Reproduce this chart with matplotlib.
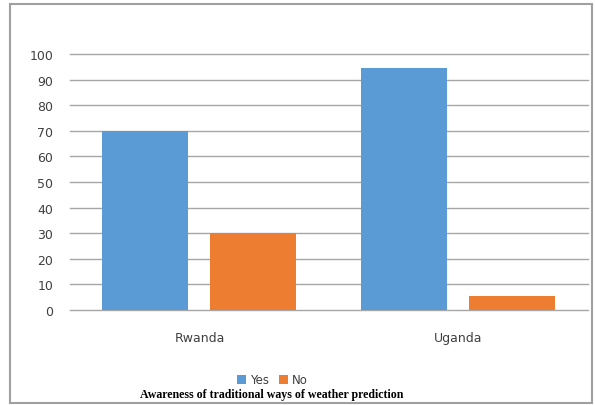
import matplotlib
matplotlib.use("Agg")
import matplotlib.pyplot as plt
import numpy as np
from matplotlib.patches import Rectangle

countries = ["Rwanda", "Uganda"]
yes_vals = [70, 94.4]
no_vals = [30, 5.6]
yticks = list(range(0, 101, 10))

fig = plt.figure(figsize=(5.95, 4.06), dpi=100)
ax = fig.add_axes([0.1176, 0.234, 0.8704, 0.6305])

x = np.arange(len(countries))
w = 0.332
ax.bar(x - 0.2085, yes_vals, w, color="#5b9bd5", label="Yes", zorder=3)
ax.bar(x + 0.2085, no_vals, w, color="#ed7d31", label="No", zorder=3)

ax.set_xlim(-0.5, 1.5)
ax.set_ylim(0, 100)
ax.set_yticks(yticks)
ax.set_xticks(x)
ax.set_xticklabels(countries)
ax.tick_params(axis="both", length=0, labelsize=9, colors="#404040")
ax.tick_params(axis="y", pad=12)
ax.tick_params(axis="x", pad=15)
ax.grid(axis="y", color="#a6a6a6", linewidth=1.0, zorder=0)
for gl in ax.get_ygridlines():
    gl.set_clip_on(False)
for s in ax.spines.values():
    s.set_visible(False)

leg = fig.legend(loc="center", bbox_to_anchor=(0.458, 0.062), ncol=2, frameon=False,
                 fontsize=8.5, handlelength=0.75, handleheight=0.75,
                 handletextpad=0.3, columnspacing=0.9)
for t in leg.get_texts():
    t.set_color("#404040")

fig.text(0.456, 0.027, "Awareness of traditional ways of weather prediction",
         ha="center", va="center", fontsize=8.6, fontweight="bold",
         family="Liberation Serif")

fig.patches.append(Rectangle((10 / 595, 2 / 406), 582 / 595, 399 / 406,
                             transform=fig.transFigure, fill=False,
                             edgecolor="#a0a0a0", linewidth=1.5))

fig.savefig("out.png", dpi=100)
